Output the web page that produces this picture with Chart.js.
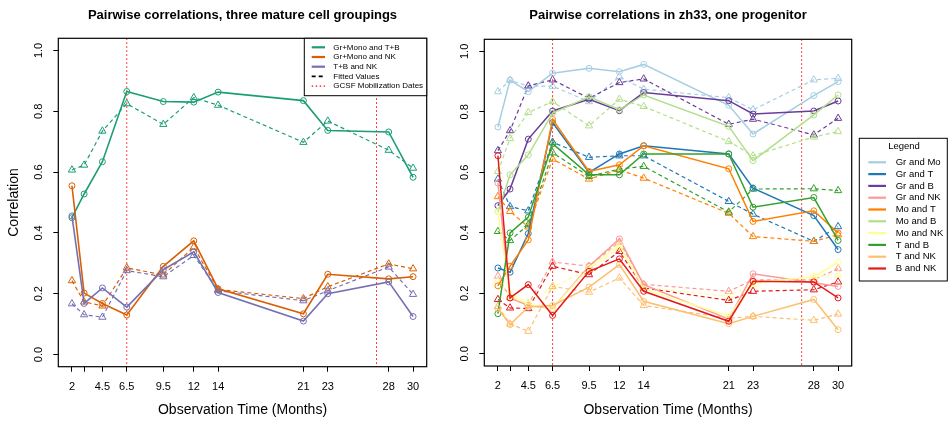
<!DOCTYPE html>
<html>
<head>
<meta charset="utf-8">
<script src="https://cdn.jsdelivr.net/npm/chart.js@4.4.1/dist/chart.umd.min.js"></script>
<style>
html, body { margin: 0; padding: 0; background: #fff; }
#wrap { position: relative; width: 950px; height: 424px; }
canvas { position: absolute; top: 0; }
#left { left: 0; }
#right { left: 450px; }
</style>
</head>
<body>
<div id="wrap">
<canvas id="left" width="450" height="424"></canvas>
<canvas id="right" width="500" height="424"></canvas>
</div>
<script>
// observation times in months
const times = [2, 3, 4.5, 6.5, 9.5, 12, 14, 21, 23, 28, 30];
const xTicks = [2, 3, 4.5, 6.5, 9.5, 12, 14, 21, 23, 28, 30];
const yTicks = [0, 0.2, 0.4, 0.6, 0.8, 1.0];
const gcsfDates = [6.5, 27];

// left panel: three mature cell groupings
const grMonoTB    = [0.45, 0.528, 0.634, 0.865, 0.832, 0.83, 0.863, 0.835, 0.737, 0.732, 0.583];
const grMonoTBFit = [0.607, 0.623, 0.735, 0.825, 0.757, 0.845, 0.82, 0.698, 0.768, 0.672, 0.613];
const grMonoNK    = [0.555, 0.202, 0.168, 0.13, 0.29, 0.374, 0.216, 0.134, 0.264, 0.249, 0.256];
const grMonoNKFit = [0.243, 0.173, 0.16, 0.285, 0.262, 0.353, 0.214, 0.184, 0.223, 0.298, 0.282];
const tbNK        = [0.456, 0.168, 0.219, 0.156, 0.279, 0.338, 0.204, 0.11, 0.2, 0.239, 0.125];
const tbNKFit     = [0.167, 0.131, 0.123, 0.276, 0.256, 0.326, 0.21, 0.177, 0.21, 0.288, 0.198];

// right panel: zh33, one progenitor
const grMo    = [0.75, 0.905, 0.867, 0.928, 0.944, 0.933, 0.957, 0.822, 0.727, 0.854, 0.90];
const grMoFit = [0.867, 0.905, 0.885, 0.885, 0.834, 0.916, 0.875, 0.847, 0.807, 0.906, 0.911];
const grT     = [0.284, 0.27, 0.398, 0.765, 0.60, 0.661, 0.688, 0.661, 0.548, 0.457, 0.345];
const grTFit  = [0.578, 0.487, 0.473, 0.70, 0.65, 0.655, 0.655, 0.504, 0.462, 0.372, 0.421];
const grB     = [0.49, 0.545, 0.71, 0.803, 0.842, 0.804, 0.864, 0.837, 0.793, 0.803, 0.836];
const grBFit  = [0.672, 0.738, 0.886, 0.906, 0.845, 0.897, 0.909, 0.759, 0.776, 0.724, 0.779];
const grNK    = [0.565, 0.185, 0.16, 0.15, 0.29, 0.38, 0.229, 0.115, 0.265, 0.235, 0.223];
const grNKFit = [0.257, 0.185, 0.165, 0.304, 0.29, 0.37, 0.23, 0.207, 0.245, 0.245, 0.282];
const moT     = [0.225, 0.29, 0.377, 0.775, 0.603, 0.625, 0.688, 0.612, 0.438, 0.473, 0.40];
const moTFit  = [0.52, 0.471, 0.42, 0.644, 0.578, 0.608, 0.581, 0.465, 0.388, 0.372, 0.394];
const moB     = [0.47, 0.592, 0.658, 0.796, 0.85, 0.807, 0.856, 0.752, 0.639, 0.79, 0.856];
const moBFit  = [0.603, 0.712, 0.798, 0.834, 0.754, 0.842, 0.818, 0.702, 0.655, 0.717, 0.735];
const moNK    = [0.47, 0.19, 0.165, 0.15, 0.285, 0.36, 0.215, 0.125, 0.235, 0.255, 0.303];
const moNKFit = [0.24, 0.2, 0.17, 0.22, 0.28, 0.35, 0.22, 0.19, 0.23, 0.256, 0.262];
const tB      = [0.133, 0.40, 0.452, 0.695, 0.592, 0.592, 0.661, 0.661, 0.485, 0.517, 0.375];
const tBFit   = [0.405, 0.375, 0.427, 0.665, 0.587, 0.611, 0.62, 0.469, 0.545, 0.546, 0.54];
const tNK     = [0.15, 0.097, 0.155, 0.16, 0.221, 0.295, 0.174, 0.10, 0.124, 0.18, 0.08];
const tNKFit  = [0.157, 0.099, 0.075, 0.223, 0.204, 0.251, 0.16, 0.118, 0.124, 0.111, 0.132];
const bNK     = [0.655, 0.185, 0.229, 0.127, 0.273, 0.314, 0.207, 0.108, 0.24, 0.238, 0.185];
const bNKFit  = [0.18, 0.152, 0.15, 0.29, 0.262, 0.339, 0.218, 0.177, 0.207, 0.212, 0.238];

const leftLabels = ['Gr+Mono and T+B', 'Gr+Mono and NK', 'T+B and NK'];
const leftColors = ['#1B9E77', '#D95F02', '#7570B3'];
const rightLabels = ['Gr and Mo', 'Gr and T', 'Gr and B', 'Gr and NK', 'Mo and T',
                     'Mo and B', 'Mo and NK', 'T and B', 'T and NK', 'B and NK'];
const rightColors = ['#A6CEE3', '#1F78B4', '#6A3D9A', '#FB9A99', '#FF7F00',
                     '#B2DF8A', '#FFFF99', '#33A02C', '#FDBF6F', '#E31A1C'];

const FONT = '"Liberation Sans", Arial, Helvetica, sans-serif';

function pts(vals) {
    return times.map((t, i) => ({ x: t, y: vals[i] }));
}

function observed(label, vals, color, w) {
    return {
        label: label, data: pts(vals),
        borderColor: color, borderWidth: w,
        pointStyle: 'circle', pointRadius: 3,
        pointBorderColor: color, pointBackgroundColor: 'rgba(0,0,0,0)', pointBorderWidth: 1,
        tension: 0, fill: false
    };
}

function fitted(label, vals, color, w) {
    return {
        label: label + ' (fitted)', data: pts(vals),
        borderColor: color, borderWidth: w, borderDash: [4, 3],
        pointStyle: 'triangle', pointRadius: 4.2,
        pointBorderColor: color, pointBackgroundColor: 'rgba(0,0,0,0)', pointBorderWidth: 1,
        tension: 0, fill: false
    };
}

function legendLine(ctx, x1, x2, y, color, w, dash) {
    ctx.save();
    ctx.strokeStyle = color;
    ctx.lineWidth = w;
    ctx.setLineDash(dash || []);
    ctx.beginPath();
    ctx.moveTo(x1, y);
    ctx.lineTo(x2, y);
    ctx.stroke();
    ctx.restore();
}

function drawLeftLegend(ctx, a) {
    const w = 122.4, h = 57.4;
    const bx = a.right - w, by = a.top;
    ctx.fillStyle = '#fff';
    ctx.fillRect(bx, by, w, h);
    ctx.strokeStyle = '#000';
    ctx.lineWidth = 1;
    ctx.strokeRect(bx, by, w, h);
    ctx.font = '8px ' + FONT;
    ctx.textAlign = 'left';
    ctx.textBaseline = 'middle';
    const rows = leftLabels.map((l, i) => ({ text: l, color: leftColors[i], w: 2.2, dash: [] }));
    rows.push({ text: 'Fitted Values', color: '#000', w: 1.6, dash: [4, 3] });
    rows.push({ text: 'GCSF Mobilization Dates', color: '#ff0000', w: 1.2, dash: [1.5, 2.5] });
    rows.forEach((r, i) => {
        const yy = by + 9 + i * 9.7;
        legendLine(ctx, bx + 7.4, bx + 20.7, yy, r.color, r.w, r.dash);
        ctx.fillStyle = '#000';
        ctx.fillText(r.text, bx + 29, yy);
    });
}

function drawRightLegend(ctx, a) {
    const bx = a.right + 7.6, by = 138.3, w = 88, h = 142.7;
    ctx.fillStyle = '#fff';
    ctx.fillRect(bx, by, w, h);
    ctx.strokeStyle = '#000';
    ctx.lineWidth = 1;
    ctx.strokeRect(bx, by, w, h);
    ctx.fillStyle = '#000';
    ctx.font = '9.5px ' + FONT;
    ctx.textAlign = 'center';
    ctx.textBaseline = 'middle';
    ctx.fillText('Legend', bx + 44.7, by + 8.4);
    ctx.textAlign = 'left';
    rightLabels.forEach((l, i) => {
        const yy = by + 24 + i * 11.8;
        legendLine(ctx, bx + 9, bx + 26.7, yy, rightColors[i], 2.2);
        ctx.fillStyle = '#000';
        ctx.fillText(l, bx + 36.4, yy);
    });
}

function framePlugin(opts) {
    return {
        id: 'frame',
        beforeDatasetsDraw(chart) {
            const { ctx, chartArea: a, scales: { x } } = chart;
            ctx.save();
            ctx.strokeStyle = '#ff0000';
            ctx.lineWidth = 1;
            ctx.setLineDash([1.5, 2.5]);
            gcsfDates.forEach(d => {
                const px = x.getPixelForValue(d);
                ctx.beginPath();
                ctx.moveTo(px, a.top);
                ctx.lineTo(px, a.bottom);
                ctx.stroke();
            });
            ctx.restore();
        },
        afterDraw(chart) {
            const { ctx, chartArea: a, scales: { y } } = chart;
            ctx.save();
            ctx.strokeStyle = '#000';
            ctx.lineWidth = 1.2;
            ctx.strokeRect(a.left, a.top, a.right - a.left, a.bottom - a.top);

            ctx.fillStyle = '#000';
            ctx.font = '11px ' + FONT;
            ctx.textAlign = 'center';
            ctx.textBaseline = 'middle';
            yTicks.forEach(v => {
                ctx.save();
                ctx.translate(a.left - 19, y.getPixelForValue(v));
                ctx.rotate(-Math.PI / 2);
                ctx.fillText(v.toFixed(1), 0, 0);
                ctx.restore();
            });

            const cx = (a.left + a.right) / 2;
            ctx.font = 'bold 13px ' + FONT;
            ctx.fillText(opts.title, cx, 15);
            ctx.font = '14px ' + FONT;
            ctx.fillText('Observation Time (Months)', cx, 410);
            if (opts.yTitle) {
                ctx.save();
                ctx.translate(14, (a.top + a.bottom) / 2);
                ctx.rotate(-Math.PI / 2);
                ctx.fillText(opts.yTitle, 0, 0);
                ctx.restore();
            }
            opts.legend(ctx, a);
            ctx.restore();
        }
    };
}

function makeChart(id, datasets, pad, yWidth, xHeight, opts) {
    const axisGrid = { drawOnChartArea: false, drawTicks: true, tickLength: 5, color: '#000', lineWidth: 1 };
    return new Chart(document.getElementById(id), {
        type: 'line',
        data: { datasets: datasets },
        options: {
            responsive: false,
            animation: false,
            devicePixelRatio: 1,
            events: [],
            layout: { padding: pad },
            plugins: { legend: { display: false }, tooltip: { enabled: false } },
            scales: {
                x: {
                    type: 'linear', min: 0.88, max: 31.12,
                    afterBuildTicks: s => { s.ticks = xTicks.map(v => ({ value: v })); },
                    afterFit: s => { s.height = xHeight; },
                    ticks: {
                        autoSkip: false, maxRotation: 0, minRotation: 0, padding: 8.5,
                        color: '#000', font: { size: 11, family: FONT },
                        callback: v => (v === 3 ? '' : String(v))
                    },
                    grid: axisGrid,
                    border: { display: false }
                },
                y: {
                    type: 'linear', min: -0.04, max: 1.04,
                    afterBuildTicks: s => { s.ticks = yTicks.map(v => ({ value: v })); },
                    afterFit: s => { s.width = yWidth; },
                    ticks: { display: false },
                    grid: axisGrid,
                    border: { display: false }
                }
            }
        },
        plugins: [framePlugin(opts)]
    });
}

// Chart.js paints dataset 0 last (on top)
const leftData = [
    observed(leftLabels[2], tbNK, leftColors[2], 1.6),
    observed(leftLabels[1], grMonoNK, leftColors[1], 1.6),
    observed(leftLabels[0], grMonoTB, leftColors[0], 1.6),
    fitted(leftLabels[2], tbNKFit, leftColors[2], 1.2),
    fitted(leftLabels[1], grMonoNKFit, leftColors[1], 1.2),
    fitted(leftLabels[0], grMonoTBFit, leftColors[0], 1.2)
];

const rightObs = [grMo, grT, grB, grNK, moT, moB, moNK, tB, tNK, bNK];
const rightFit = [grMoFit, grTFit, grBFit, grNKFit, moTFit, moBFit, moNKFit, tBFit, tNKFit, bNKFit];
const rightData = [];
for (let i = rightLabels.length - 1; i >= 0; i--) {
    rightData.push(observed(rightLabels[i], rightObs[i], rightColors[i], 1.5));
}
for (let i = rightLabels.length - 1; i >= 0; i--) {
    rightData.push(fitted(rightLabels[i], rightFit[i], rightColors[i], 1.2));
}

makeChart('left', leftData, { left: 0, right: 23.3, top: 38.3, bottom: 0 }, 58.3, 57.3, {
    title: 'Pairwise correlations, three mature cell groupings',
    yTitle: 'Correlation',
    legend: drawLeftLegend
});

makeChart('right', rightData, { left: 0, right: 98.3, top: 39.3, bottom: 0 }, 34.3, 58, {
    title: 'Pairwise correlations in zh33, one progenitor',
    yTitle: null,
    legend: drawRightLegend
});
</script>
</body>
</html>
